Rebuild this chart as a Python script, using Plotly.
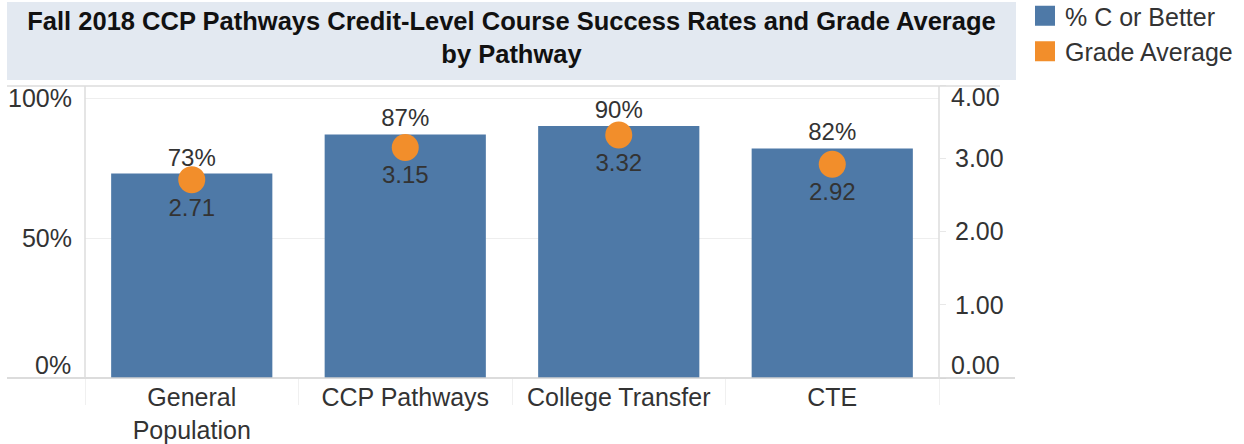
import plotly.graph_objects as go

categories = ["General<br>Population", "CCP Pathways", "College Transfer", "CTE"]
pct_c_or_better = [0.73, 0.87, 0.90, 0.82]
grade_average = [2.71, 3.15, 3.32, 2.92]
pct_ticks = [0, 0.5, 1.0]
pct_tick_labels = ["0%", "50%", "100%"]
grade_ticks = [0, 1, 2, 3, 4]
grade_tick_labels = ["0.00", "1.00", "2.00", "3.00", "4.00"]

BLUE = "#4e79a7"
ORANGE = "#f28e2b"
FONT = "Liberation Sans, Arial, sans-serif"
TXT = "#333333"
FS = 25

W, H = 1244, 444
L, R, T, B = 85, 305, 85, 66
pw = W - L - R
ph = H - T - B


def px_x(p):
    return (p - L) / pw


def px_y(p):
    return (H - B - p) / ph


fig = go.Figure()
fig.add_trace(go.Bar(
    x=categories, y=pct_c_or_better, name="% C or Better",
    marker=dict(color=BLUE, line=dict(width=0)), width=0.755,
    text=[f"{v:.0%}" for v in pct_c_or_better], textposition="outside",
    textfont=dict(size=24, color=TXT, family=FONT), cliponaxis=False,
    showlegend=False,
))
fig.add_trace(go.Scatter(
    x=categories, y=grade_average, yaxis="y2", mode="markers+text",
    name="Grade Average",
    marker=dict(color=ORANGE, size=27, line=dict(width=0)),
    text=[f"{v:.2f}" for v in grade_average], textposition="bottom center",
    textfont=dict(size=24, color=TXT, family=FONT), cliponaxis=False,
    showlegend=False,
))
# legend entries (square swatches)
for nm, col in [("% C or Better", BLUE), ("Grade Average", ORANGE)]:
    fig.add_trace(go.Scatter(
        x=[None], y=[None], mode="markers", name=nm,
        marker=dict(color=col, symbol="square", size=16,
                    line=dict(color=col, width=4)),
    ))

shapes = [
    dict(type="rect", xref="paper", yref="paper",
         x0=px_x(7), x1=px_x(1016), y0=px_y(80), y1=px_y(2),
         fillcolor="#e3e9f1", line=dict(width=0), layer="below"),
    dict(type="line", xref="paper", yref="paper",
         x0=px_x(7), x1=px_x(1000), y0=px_y(86), y1=px_y(86),
         line=dict(color="#dcdcdc", width=1.5)),
    dict(type="line", xref="paper", yref="paper",
         x0=px_x(7), x1=px_x(1015), y0=0, y1=0,
         line=dict(color="#d0d0d0", width=1.5)),
    dict(type="line", xref="paper", yref="paper",
         x0=0, x1=0, y0=0, y1=px_y(86),
         line=dict(color="#dcdcdc", width=1.5)),
    dict(type="line", xref="paper", yref="paper",
         x0=1, x1=1, y0=0, y1=px_y(86),
         line=dict(color="#dcdcdc", width=1.5)),
]

# edge tick labels nudged inward (as in the reference)
annotations = [
    dict(text=pct_tick_labels[0], xref="paper", x=0, xanchor="right", xshift=-12,
         yref="y", y=pct_ticks[0], yanchor="middle", yshift=13, showarrow=False,
         font=dict(size=FS, color=TXT, family=FONT)),
    dict(text=grade_tick_labels[0], xref="paper", x=1, xanchor="left", xshift=10,
         yref="y2", y=grade_ticks[0], yanchor="middle", yshift=13, showarrow=False,
         font=dict(size=FS, color=TXT, family=FONT)),
    dict(text=grade_tick_labels[-1], xref="paper", x=1, xanchor="left", xshift=10,
         yref="y2", y=grade_ticks[-1], yanchor="middle", yshift=-12, showarrow=False,
         font=dict(size=FS, color=TXT, family=FONT)),
]

fig.update_layout(
    width=W, height=H,
    margin=dict(l=L, r=R, t=T, b=B, autoexpand=False),
    paper_bgcolor="white", plot_bgcolor="white",
    font=dict(family=FONT, size=FS, color=TXT),
    title=dict(
        text="<b>Fall 2018 CCP Pathways Credit-Level Course Success Rates and Grade Average<br>by Pathway</b>",
        x=511.5 / W, xanchor="center", xref="container",
        y=1 - 30 / H, yanchor="middle", yref="container",
        font=dict(size=25.5, color="#111111", family=FONT),
    ),
    xaxis=dict(
        showgrid=False, showline=False, zeroline=False,
        ticks="outside", tickson="boundaries", ticklen=26,
        tickcolor="#f0f0f0", tickwidth=1, ticklabelstandoff=2,
        tickfont=dict(size=FS, color=TXT, family=FONT),
    ),
    yaxis=dict(
        range=[0, ph / 280], tickvals=pct_ticks,
        ticktext=[""] + pct_tick_labels[1:],
        showgrid=True, gridcolor="#eeeeee", gridwidth=1,
        zeroline=False, showline=False, ticks="",
        ticklabelstandoff=12,
        tickfont=dict(size=FS, color=TXT, family=FONT),
    ),
    yaxis2=dict(
        range=[0, 4.003], overlaying="y", side="right",
        tickvals=grade_ticks,
        ticktext=[""] + grade_tick_labels[1:-1] + [""],
        showgrid=False, zeroline=False, showline=False,
        ticks="outside", ticklen=6, tickcolor="#e8e8e8",
        ticklabelstandoff=4,
        tickfont=dict(size=FS, color=TXT, family=FONT),
    ),
    legend=dict(
        x=px_x(1025), y=px_y(-7), xanchor="left", yanchor="top",
        font=dict(size=FS, color=TXT, family=FONT),
        bgcolor="rgba(0,0,0,0)", itemsizing="trace",
        tracegroupgap=0, itemwidth=30,
    ),
    shapes=shapes,
    annotations=annotations,
)

fig.write_html("out.html", config={"displayModeBar": False},
               post_script="document.body.style.margin='0';")
